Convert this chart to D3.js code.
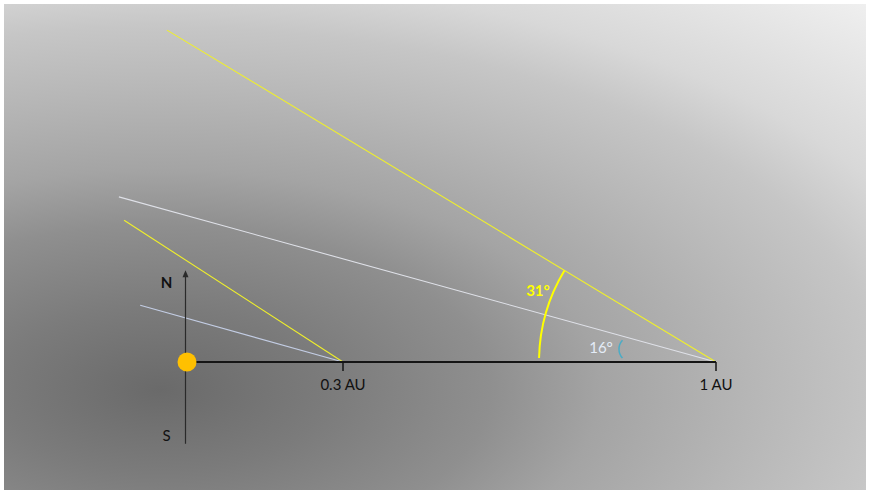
<!DOCTYPE html>
<html>
<head>
<meta charset="utf-8">
<script src="https://cdn.jsdelivr.net/npm/d3@7"></script>
<style>
html,body{margin:0;padding:0;background:#fff;}
svg{display:block;}
</style>
</head>
<body>
<svg id="chart" width="870" height="493"></svg>
<script>
// ---- data ----
const tickDistances = [0.3, 1];
const tickLabels = ["0.3 AU", "1 AU"];
const rayOrigins = [1, 1, 0.3, 0.3];
const rayEndX = [-0.0385, -0.131, -0.121, -0.090];
const rayEndY = [0.625, 0.311, 0.267, 0.107];
const rayKinds = ["yellow", "white", "yellow", "blue"];
const angleValues = [31, 16];
const angleLabels = ["31°", "16°"];
const axisLabels = ["N", "S"];
const axisRange = [-0.154, 0.173];

const svg = d3.select("#chart");
const W = 870, H = 493;

const x = d3.scaleLinear().domain([0, 0.3, 1]).range([187, 343, 716]);
const y = d3.scaleLinear().domain([0, 1]).range([362, -169]);

// background
const defs = svg.append("defs");
const grad = defs.append("radialGradient")
  .attr("id", "bg").attr("gradientUnits", "userSpaceOnUse")
  .attr("cx", 0).attr("cy", 0).attr("r", 1)
  .attr("gradientTransform", "translate(160,390) scale(1100,550)");
[[0, "#6a6a6a"], [0.15, "#7b7b7b"], [0.30, "#8f8f8f"], [0.40, "#a4a4a4"], [0.55, "#b8b8b8"],
 [0.66, "#c6c6c6"], [0.75, "#d8d8d8"], [0.96, "#f0f0f0"]]
  .forEach(s => grad.append("stop").attr("offset", s[0]).attr("stop-color", s[1]));
svg.append("rect").attr("x", 4).attr("y", 4).attr("width", W - 8).attr("height", H - 7)
  .attr("fill", "url(#bg)");

const rayColor = {yellow: "#f0f02a", white: "#dfe1e8", blue: "#c3cde4"};

// rays
svg.append("g").selectAll("line").data(rayOrigins).join("line")
  .attr("x1", d => x(d)).attr("y1", y(0))
  .attr("x2", (d, i) => x(rayEndX[i])).attr("y2", (d, i) => y(rayEndY[i]))
  .attr("stroke", (d, i) => rayColor[rayKinds[i]])
  .attr("stroke-width", 1.1);

// N-S axis
const ax = x(0) - 1.5;
svg.append("line").attr("x1", ax).attr("x2", ax)
  .attr("y1", y(axisRange[0])).attr("y2", y(axisRange[1]) + 5)
  .attr("stroke", "#2a2a2a").attr("stroke-width", 1.2);
svg.append("path")
  .attr("d", `M${ax},${y(axisRange[1])} L${ax - 3},${y(axisRange[1]) + 7} L${ax + 3},${y(axisRange[1]) + 7} Z`)
  .attr("fill", "#2a2a2a");
svg.append("text").attr("x", ax - 19).attr("y", y(axisRange[1]) + 18)
  .attr("text-anchor", "middle").attr("font-family", "Lato, 'Open Sans', sans-serif")
  .attr("font-size", 15).attr("font-weight", "bold").attr("fill", "#111").text(axisLabels[0]);
svg.append("text").attr("x", ax - 19).attr("y", y(axisRange[0]) - 3)
  .attr("text-anchor", "middle").attr("font-family", "Lato, 'Open Sans', sans-serif")
  .attr("font-size", 15).attr("fill", "#111").text(axisLabels[1]);

// main distance axis
svg.append("line").attr("x1", x(0)).attr("x2", x(1)).attr("y1", y(0)).attr("y2", y(0))
  .attr("stroke", "#151515").attr("stroke-width", 2);
const ticks = svg.append("g").selectAll("g").data(tickDistances).join("g")
  .attr("transform", d => `translate(${x(d)},${y(0)})`);
ticks.append("line").attr("y1", 0).attr("y2", 9).attr("stroke", "#151515").attr("stroke-width", 1.5);
ticks.append("text").attr("y", 28).attr("text-anchor", "middle")
  .attr("font-family", "Lato, 'Open Sans', sans-serif").attr("font-size", 15).attr("fill", "#111")
  .text((d, i) => tickLabels[i]);

// sun
svg.append("circle").attr("cx", x(0)).attr("cy", y(0)).attr("r", 9.5).attr("fill", "#ffc000");

// angle arcs
const arcCenter = [x(1), y(0)];
// large yellow arc for the 31° angle, around the 1 AU vertex
const bigArc = d3.path();
bigArc.arc(arcCenter[0], arcCenter[1], 177, Math.PI + 1.3 * Math.PI / 180, Math.PI + angleValues[0] * Math.PI / 180, false);
svg.append("path").attr("d", bigArc.toString())
  .attr("fill", "none").attr("stroke", "#ffff00").attr("stroke-width", 2);
// small blue bracket-shaped arc for the 16° angle
const smallArc = d3.path();
const sx = arcCenter[0] - 97 + 11, sy = arcCenter[1] - angleValues[1] * 0.8;
smallArc.arc(sx + 2, sy, 13, Math.PI - 0.75, Math.PI + 0.75, false);
svg.append("path").attr("d", smallArc.toString())
  .attr("fill", "none").attr("stroke", "#4bacc6").attr("stroke-width", 1.5);

svg.append("text").attr("x", 538).attr("y", 296).attr("text-anchor", "middle")
  .attr("font-family", "Lato, 'Open Sans', sans-serif").attr("font-size", 15).attr("font-weight", "bold")
  .attr("fill", "#ffff00").text(angleLabels[0]);
svg.append("text").attr("x", 601).attr("y", 353).attr("text-anchor", "middle")
  .attr("font-family", "Lato, 'Open Sans', sans-serif").attr("font-size", 15)
  .attr("fill", "#e4ecf7").text(angleLabels[1]);
</script>
</body>
</html>
